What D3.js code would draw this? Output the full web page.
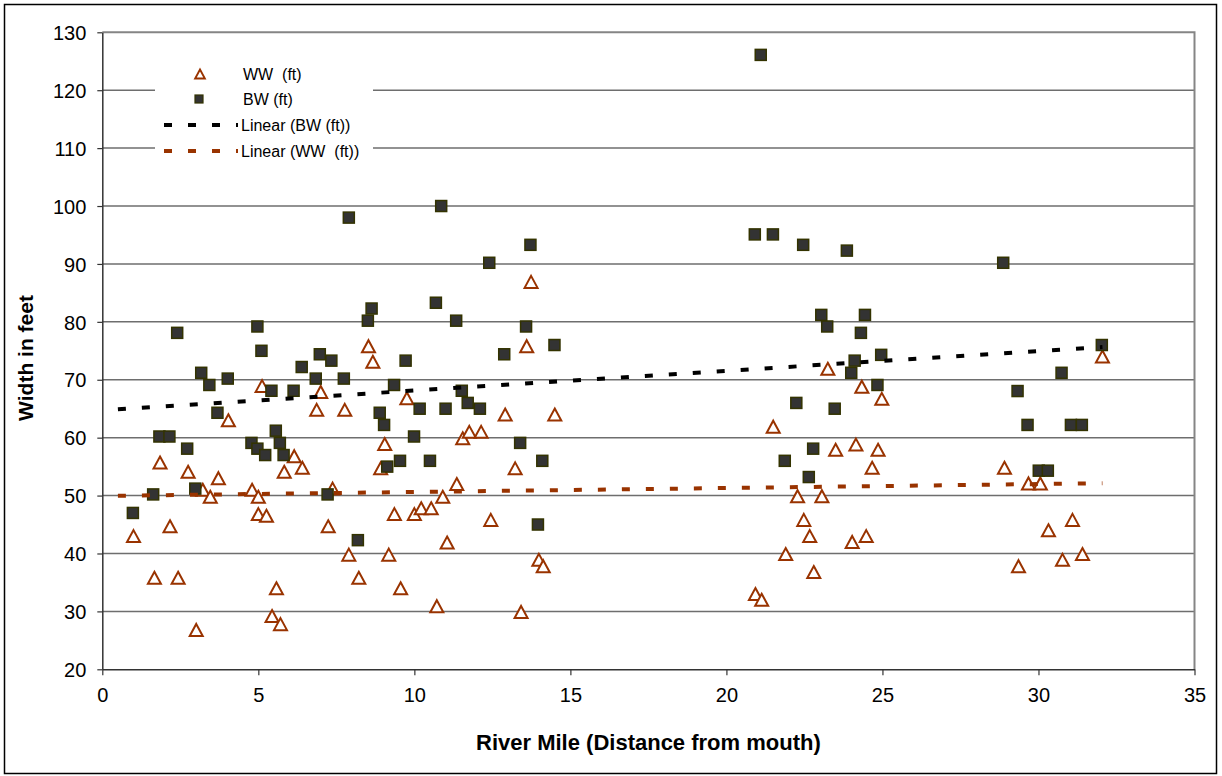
<!DOCTYPE html>
<html>
<head>
<meta charset="utf-8">
<script src="https://cdn.jsdelivr.net/npm/d3@7"></script>
<style>
  body { margin: 0; background: #fff; }
  text { font-family: "Liberation Sans", Arial, sans-serif; }
</style>
</head>
<body>
<svg id="chart" width="1222" height="776"></svg>
<script>
// WW (ft) points: river mile, width
var wwMile = [5.12, 7.0, 6.87, 7.77, 4.04, 1.85, 2.75, 3.72, 6.15, 5.83, 6.41, 3.22, 3.46, 4.80, 5.0, 7.38, 5.0, 5.26, 2.17, 7.24,
              1.0, 7.9, 1.67, 2.43, 5.58, 5.44, 5.71, 3.01, 8.53, 8.67, 13.6, 9.76, 12.91, 14.5, 9.05, 11.55, 11.76, 12.14, 8.92, 13.23,
              11.36, 10.91, 9.36, 10.0, 10.22, 10.54, 12.45, 11.05, 9.18, 13.99, 14.13, 8.22, 9.56, 10.72, 13.42, 13.74,
              23.25, 24.34, 24.98, 21.5, 24.15, 23.5, 24.86, 24.67, 22.28, 23.06, 22.48, 22.67, 24.03, 24.48, 21.9, 22.8, 20.93, 21.13,
              32.05, 28.91, 29.68, 30.06, 30.32, 31.09, 29.36, 30.77, 31.41];
var wwWidth = [68.9, 67.9, 64.8, 64.8, 63.0, 55.7, 54.1, 53.0, 56.8, 54.1, 54.8, 51.0, 49.8, 51.0, 49.8, 51.2, 46.8, 46.5, 44.7, 44.7,
               43.0, 39.8, 35.8, 35.8, 34.0, 29.2, 27.8, 26.8, 75.8, 73.1, 75.8, 66.8, 64.0, 64.0, 58.9, 59.9, 61.0, 61.0, 54.7, 54.7,
               52.0, 49.8, 46.8, 46.8, 47.8, 47.8, 45.8, 41.9, 39.8, 38.9, 37.8, 35.8, 34.0, 30.9, 29.9, 86.9,
               71.9, 68.8, 66.7, 61.9, 58.8, 57.9, 57.9, 54.8, 49.9, 49.9, 45.8, 43.0, 42.0, 43.0, 39.9, 36.8, 33.0, 32.0,
               74.0, 54.8, 52.1, 52.1, 44.0, 45.8, 37.8, 38.9, 39.9];

// BW (ft) points
var bwMile = [2.40, 4.97, 5.10, 3.17, 3.43, 4.02, 3.69, 1.83, 2.15, 2.72, 1.63, 0.98, 2.98, 5.42, 6.13, 6.39, 6.97, 7.34, 6.84, 7.74,
              4.78, 4.97, 5.22, 5.56, 5.69, 5.81, 7.22, 8.63, 8.51, 10.69, 11.34, 13.58, 14.49, 9.72, 12.88, 9.35, 11.52, 11.71, 12.1, 10.17,
              11.0, 8.89, 9.03, 9.99, 13.39, 9.54, 10.50, 9.13, 14.1, 8.19, 13.96, 7.9, 10.86, 12.4, 13.72,
              20.91, 21.49, 22.46, 23.86, 23.04, 23.23, 24.44, 24.31, 24.96, 24.11, 24.0, 24.84, 22.24, 23.47, 22.78, 21.87, 22.64, 21.1,
              28.87, 32.03, 30.74, 29.33, 29.65, 31.04, 31.39, 30.01, 30.3];
var bwWidth = [78.1, 79.2, 75.0, 71.2, 69.1, 70.2, 64.3, 60.2, 60.2, 58.1, 50.2, 47.0, 51.2, 68.1, 68.1, 72.2, 74.4, 73.3, 70.2, 70.2,
               59.1, 58.1, 57.0, 61.2, 59.1, 57.0, 50.2, 82.3, 80.2, 83.3, 80.2, 79.2, 76.0, 73.3, 74.4, 69.1, 68.1, 66.0, 65.0, 65.0,
               65.0, 64.3, 62.2, 60.2, 59.1, 56.0, 56.0, 55.0, 56.0, 42.3, 45.0, 98.0, 100.0, 90.2, 93.3,
               95.1, 95.1, 93.3, 92.3, 81.2, 79.2, 81.2, 78.1, 74.3, 73.3, 71.2, 69.1, 66.0, 65.0, 58.1, 56.0, 53.2, 126.1,
               90.2, 76.0, 71.2, 68.05, 62.2, 62.2, 62.2, 54.3, 54.3];

// trend line end points
var trendMile = [0.5, 32.05];
var bwTrend = [64.9, 75.65];
var wwTrend = [49.97, 52.13];

var xTicks = [0, 5, 10, 15, 20, 25, 30, 35];
var yTicks = [20, 30, 40, 50, 60, 70, 80, 90, 100, 110, 120, 130];

var legendLabels = ["WW  (ft)", "BW (ft)", "Linear (BW (ft))", "Linear (WW  (ft))"];

var svg = d3.select("#chart");
var plotLeft = 102.3, plotRight = 1194.5, plotTop = 32.3, plotBottom = 669.3;

var x = d3.scaleLinear().domain([0, 35]).range([plotLeft, plotRight]);
var y = d3.scaleLinear().domain([20, 130]).range([plotBottom, plotTop]);

// outer frame
svg.append("rect")
    .attr("x", 4.5).attr("y", 4.5)
    .attr("width", 1212).attr("height", 769)
    .attr("fill", "#fff")
    .attr("stroke", "#000")
    .attr("stroke-width", 1.5);

// gridlines
svg.append("g").selectAll("line")
    .data(yTicks.slice(1, -1))
    .enter().append("line")
    .attr("x1", plotLeft).attr("x2", plotRight)
    .attr("y1", function (d) { return y(d); })
    .attr("y2", function (d) { return y(d); })
    .attr("stroke", "#6e6e6e")
    .attr("stroke-width", 1.5);

// plot border top and right
svg.append("path")
    .attr("d", "M" + plotLeft + "," + plotTop + "H" + plotRight + "V" + plotBottom)
    .attr("fill", "none")
    .attr("stroke", "#858585")
    .attr("stroke-width", 2);

// axes
var xAxis = svg.append("g")
    .attr("transform", "translate(0," + plotBottom + ")")
    .call(d3.axisBottom(x).tickValues(xTicks).tickSize(6).tickPadding(8).tickSizeOuter(0));
var yAxis = svg.append("g")
    .attr("transform", "translate(" + plotLeft + ",0)")
    .call(d3.axisLeft(y).tickValues(yTicks).tickSize(5).tickPadding(11).tickSizeOuter(0));

[xAxis, yAxis].forEach(function (ax) {
    ax.select(".domain").attr("stroke", "#333").attr("stroke-width", 1.5);
    ax.selectAll(".tick line").attr("stroke", "#333").attr("stroke-width", 1.2);
    ax.selectAll(".tick text")
        .attr("fill", "#000")
        .style("font-size", "20px")
        .style("font-family", "'Liberation Sans', Arial, sans-serif");
});
xAxis.selectAll(".tick text").attr("dy", "0.95em");
yAxis.selectAll(".tick text").attr("dy", "0.36em");

// axis titles
svg.append("text")
    .attr("x", (plotLeft + plotRight) / 2)
    .attr("y", 750)
    .attr("text-anchor", "middle")
    .style("font-size", "22px")
    .style("font-weight", "bold")
    .text("River Mile (Distance from mouth)");

svg.append("text")
    .attr("transform", "translate(33," + 358 + ") rotate(-90)")
    .attr("text-anchor", "middle")
    .style("font-size", "21px")
    .style("font-weight", "bold")
    .text("Width in feet");

var triPath = "M0,-6 L6.5,6 L-6.5,6 Z";

// WW triangles
svg.append("g").selectAll("path")
    .data(d3.range(wwMile.length))
    .enter().append("path")
    .attr("d", triPath)
    .attr("transform", function (i) { return "translate(" + x(wwMile[i]) + "," + y(wwWidth[i]) + ")"; })
    .attr("fill", "#fff")
    .attr("stroke", "#993300")
    .attr("stroke-width", 2);

// BW squares
svg.append("g").selectAll("rect")
    .data(d3.range(bwMile.length))
    .enter().append("rect")
    .attr("x", function (i) { return x(bwMile[i]) - 5.5; })
    .attr("y", function (i) { return y(bwWidth[i]) - 5.5; })
    .attr("width", 11).attr("height", 11)
    .attr("fill", "#333333")
    .attr("stroke", "#333300")
    .attr("stroke-width", 1.5);

// trend lines
var trendLine = d3.line()
    .x(function (d) { return x(d[0]); })
    .y(function (d) { return y(d[1]); });

svg.append("path")
    .attr("d", trendLine(d3.zip(trendMile, bwTrend)))
    .attr("fill", "none")
    .attr("stroke", "#000")
    .attr("stroke-width", 4)
    .attr("stroke-dasharray", "8,16");

svg.append("path")
    .attr("d", trendLine(d3.zip(trendMile, wwTrend)))
    .attr("fill", "none")
    .attr("stroke", "#993300")
    .attr("stroke-width", 4)
    .attr("stroke-dasharray", "8,16");

// legend
var legend = svg.append("g");
legend.append("rect")
    .attr("x", 155).attr("y", 58)
    .attr("width", 218).attr("height", 108)
    .attr("fill", "#fff");

var rowY = [74, 99, 125, 151];

legend.append("path")
    .attr("d", triPath)
    .attr("transform", "translate(200," + rowY[0] + ") scale(0.75)")
    .attr("fill", "#fff")
    .attr("stroke", "#993300")
    .attr("stroke-width", 2.5);

legend.append("rect")
    .attr("x", 195).attr("y", rowY[1] - 4)
    .attr("width", 8).attr("height", 8)
    .attr("fill", "#333333")
    .attr("stroke", "#333300")
    .attr("stroke-width", 1.2);

legend.append("line")
    .attr("x1", 164).attr("x2", 238)
    .attr("y1", rowY[2]).attr("y2", rowY[2])
    .attr("stroke", "#000").attr("stroke-width", 4)
    .attr("stroke-dasharray", "8,16");

legend.append("line")
    .attr("x1", 164).attr("x2", 238)
    .attr("y1", rowY[3]).attr("y2", rowY[3])
    .attr("stroke", "#993300").attr("stroke-width", 4)
    .attr("stroke-dasharray", "8,16");

legend.selectAll("text.lab")
    .data(legendLabels)
    .enter().append("text")
    .attr("class", "lab")
    .attr("x", function (d, i) { return i < 2 ? 243 : 241; })
    .attr("y", function (d, i) { return rowY[i] + 5.5; })
    .style("font-size", "16px")
    .style("white-space", "pre")
    .attr("xml:space", "preserve")
    .text(function (d) { return d; });
</script>
</body>
</html>
